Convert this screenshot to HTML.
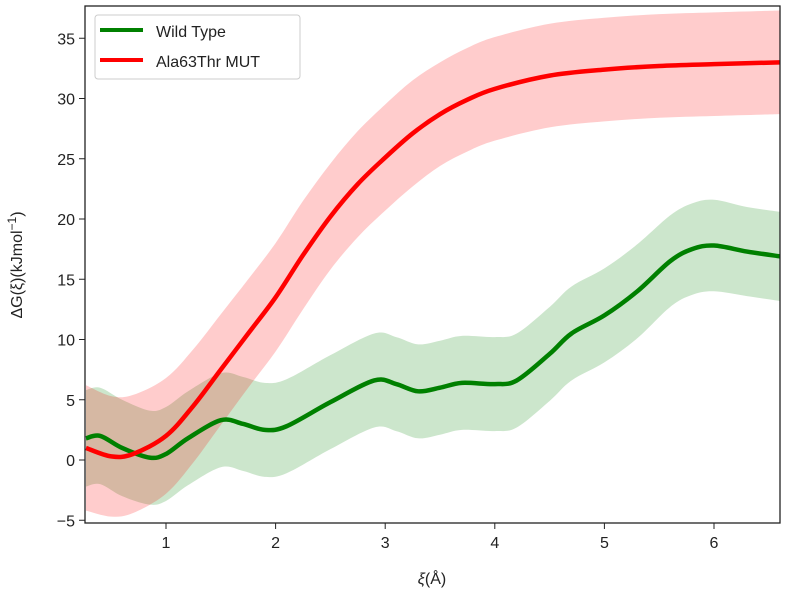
<!DOCTYPE html>
<html><head><meta charset="utf-8"><style>
body{margin:0;background:#fff;}
svg text{font-family:"Liberation Sans","DejaVu Sans",sans-serif;fill:#222;}
</style></head><body>
<svg id="chart" width="786" height="593" xmlns="http://www.w3.org/2000/svg">
<g id="bands"></g><g id="lines"></g>
<rect x="85" y="6" width="695" height="517" fill="none" stroke="#222" stroke-width="1.3"/>
<g id="xticks"></g><g id="yticks"></g>
<text x="432" y="584" font-size="16" text-anchor="middle"><tspan font-style="italic">ξ</tspan>(Å)</text>
<text transform="translate(22,265) rotate(-90)" font-size="16" text-anchor="middle">ΔG(ξ)(kJmol<tspan dy="-6" font-size="12">−1</tspan><tspan dy="6">)</tspan></text>
<g>
<rect x="95" y="15" width="205" height="64" rx="3" fill="#fff" fill-opacity="0.85" stroke="#ccc"/>
<line x1="100" y1="30" x2="143" y2="30" stroke="#008000" stroke-width="4"/>
<text x="156" y="37" font-size="16">Wild Type</text>
<line x1="100" y1="60" x2="143" y2="60" stroke="#ff0000" stroke-width="4"/>
<text x="156" y="67" font-size="16">Ala63Thr MUT</text>
</g>
</svg>
<script>
const redX = [0.27,0.5,0.7,1.0,1.25,1.5,1.75,2.0,2.25,2.5,2.75,3.0,3.25,3.5,3.75,4.0,4.5,5.0,5.5,6.0,6.6];
const redY = [1.0,0.3,0.5,2.0,4.5,7.5,10.5,13.5,17,20.2,22.9,25.1,27.1,28.7,29.9,30.8,31.9,32.4,32.7,32.85,33.0];
const redErr = [5.2,5.0,4.9,4.8,4.7,4.6,4.5,4.5,4.5,4.4,4.4,4.4,4.4,4.3,4.3,4.3,4.3,4.3,4.3,4.3,4.3];
const greenX = [0.27,0.4,0.6,0.85,1.0,1.2,1.5,1.7,1.9,2.1,2.5,2.9,3.1,3.3,3.5,3.7,4.0,4.2,4.5,4.7,5.0,5.3,5.6,5.8,6.0,6.3,6.6];
const greenY = [1.8,2.0,1.0,0.2,0.5,1.8,3.3,3.0,2.5,2.8,4.8,6.6,6.3,5.7,6.0,6.4,6.3,6.6,8.8,10.5,12.0,14.0,16.5,17.5,17.8,17.3,16.9];
const greenErr = [4.0,4.0,4.0,3.9,3.9,3.9,3.9,3.9,3.9,3.9,3.9,3.9,3.9,3.9,3.9,3.9,3.9,3.9,3.9,3.9,3.9,3.9,3.8,3.8,3.8,3.7,3.7];
const xTicks = [1,2,3,4,5,6];
const yTicks = [-5,0,5,10,15,20,25,30,35];
const NS="http://www.w3.org/2000/svg";
const sx = v => 56.4 + 109.6*v;
const sy = v => 460 - 12.05*v;
function smooth(pts){
  let d = `M${pts[0][0]},${pts[0][1]}`;
  for(let i=0;i<pts.length-1;i++){
    const p0=pts[Math.max(0,i-1)],p1=pts[i],p2=pts[i+1],p3=pts[Math.min(pts.length-1,i+2)];
    d+=` C${p1[0]+(p2[0]-p0[0])/6},${p1[1]+(p2[1]-p0[1])/6} ${p2[0]-(p3[0]-p1[0])/6},${p2[1]-(p3[1]-p1[1])/6} ${p2[0]},${p2[1]}`;
  }
  return d;
}
function mk(tag, attrs, parent){const e=document.createElementNS(NS,tag);for(const k in attrs)e.setAttribute(k,attrs[k]);document.getElementById(parent).appendChild(e);return e;}
function series(xs,ys,err,color,fill,name){
  const up=xs.map((x,i)=>[sx(x),sy(ys[i]+err[i])]);
  const lo=xs.map((x,i)=>[sx(x),sy(ys[i]-err[i])]).reverse();
  const dl=smooth(lo).replace(/^M/,'L');
  const b=mk('path',{d:smooth(up)+' '+dl+' Z',fill:fill,'fill-opacity':0.2,stroke:'none'},'bands');
  
  
  const l=mk('path',{d:smooth(xs.map((x,i)=>[sx(x),sy(ys[i])])),fill:'none',stroke:color,'stroke-width':4.5},'lines');
  
  
}
series(greenX,greenY,greenErr,'#008000','#008000','wild-type');
series(redX,redY,redErr,'#ff0000','#ff0000','mutant');
xTicks.forEach(t=>{
  const l=mk('line',{x1:sx(t),x2:sx(t),y1:523,y2:529,stroke:'#222'},'xticks');
  
  
  const tx=mk('text',{x:sx(t),y:548,'font-size':16,'text-anchor':'middle'},'xticks');tx.textContent=t;
  
  
});
yTicks.forEach(t=>{
  const l=mk('line',{x1:79,x2:85,y1:sy(t),y2:sy(t),stroke:'#222'},'yticks');
  
  
  const tx=mk('text',{x:75,y:sy(t)+6,'font-size':16,'text-anchor':'end'},'yticks');tx.textContent=t<0?'−'+(-t):t;
  
  
});
</script>
</body></html>
